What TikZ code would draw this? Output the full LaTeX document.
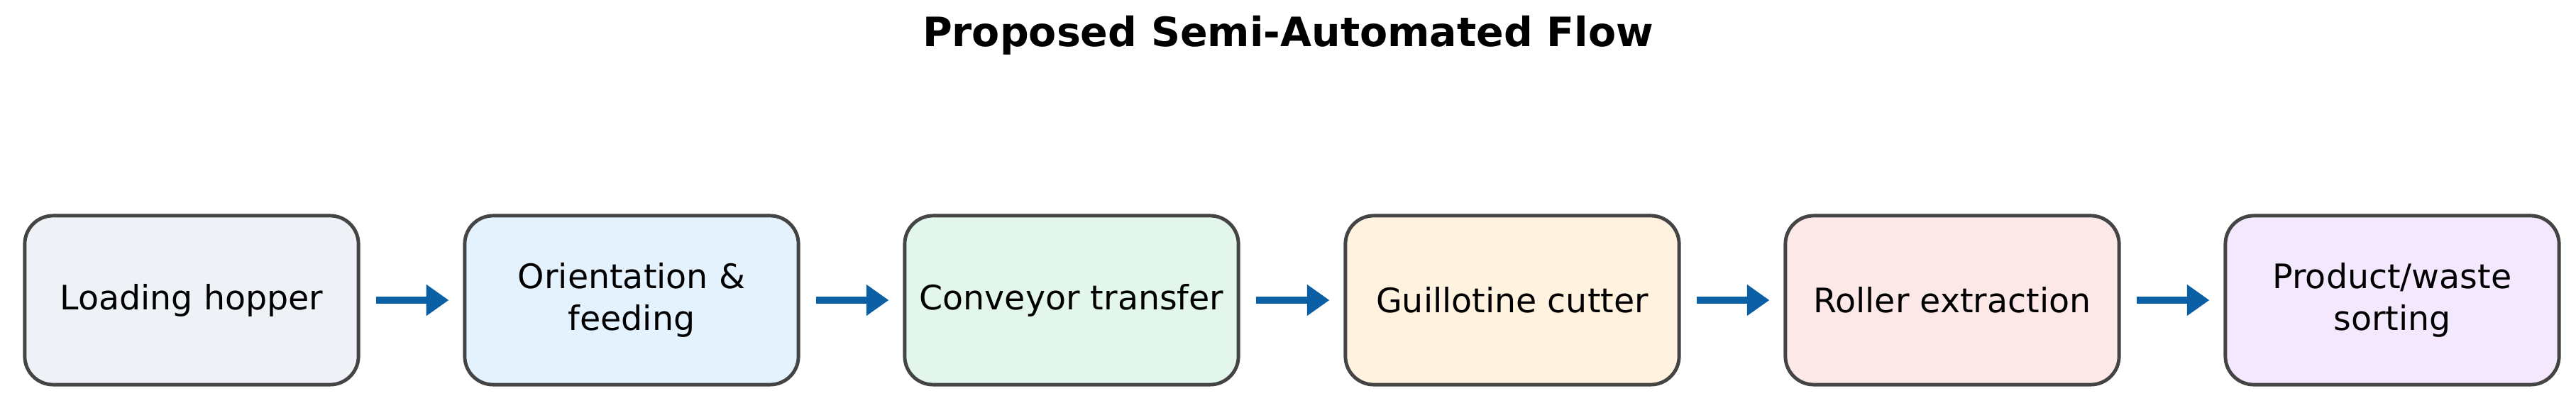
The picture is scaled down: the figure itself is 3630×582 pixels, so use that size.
\documentclass[tikz,border=0pt]{standalone}
\usepackage{fontspec}
\setmainfont{DejaVu Sans}
\usetikzlibrary{arrows.meta}
\definecolor{c1}{HTML}{EEF2F7}
\definecolor{c2}{HTML}{E3F2FD}
\definecolor{c3}{HTML}{E3F6EC}
\definecolor{c4}{HTML}{FFF3E0}
\definecolor{c5}{HTML}{FDE8E8}
\definecolor{c6}{HTML}{F3E8FD}
\definecolor{bord}{HTML}{444444}
\definecolor{arr}{HTML}{0B5FA5}
\begin{document}
\begin{tikzpicture}[x=0.01cm,y=-0.01cm,
  box/.style={draw=bord,line width=1.4pt,rounded corners=4mm,minimum width=4.7cm,minimum height=2.38cm,align=center,font=\fontsize{13.5}{17}\selectfont,inner sep=0pt},
  flow/.style={draw=arr,line width=2.8pt,-{Triangle[length=9pt,width=12pt]}}]
\useasboundingbox (0,0) rectangle (3630,582);
\node[font=\bfseries\fontsize{16.2}{19}\selectfont] (title) at (1815,50) {Proposed Semi-Automated Flow};
\node[box,fill=c1] (b1) at (270,423) {Loading hopper};
\node[box,fill=c2] (b2) at (890,423) {Orientation \&\\feeding};
\node[box,fill=c3] (b3) at (1510,423) {Conveyor transfer};
\node[box,fill=c4] (b4) at (2131,423) {Guillotine cutter};
\node[box,fill=c5] (b5) at (2751,423) {Roller extraction};
\node[box,fill=c6] (b6) at (3371,423) {Product/waste\\sorting};
\foreach \a/\b in {b1/b2,b2/b3,b3/b4,b4/b5,b5/b6}
  \draw[flow] ([xshift=0.22cm]\a.east) -- ([xshift=-0.2cm]\b.west);
\end{tikzpicture}
\end{document}
